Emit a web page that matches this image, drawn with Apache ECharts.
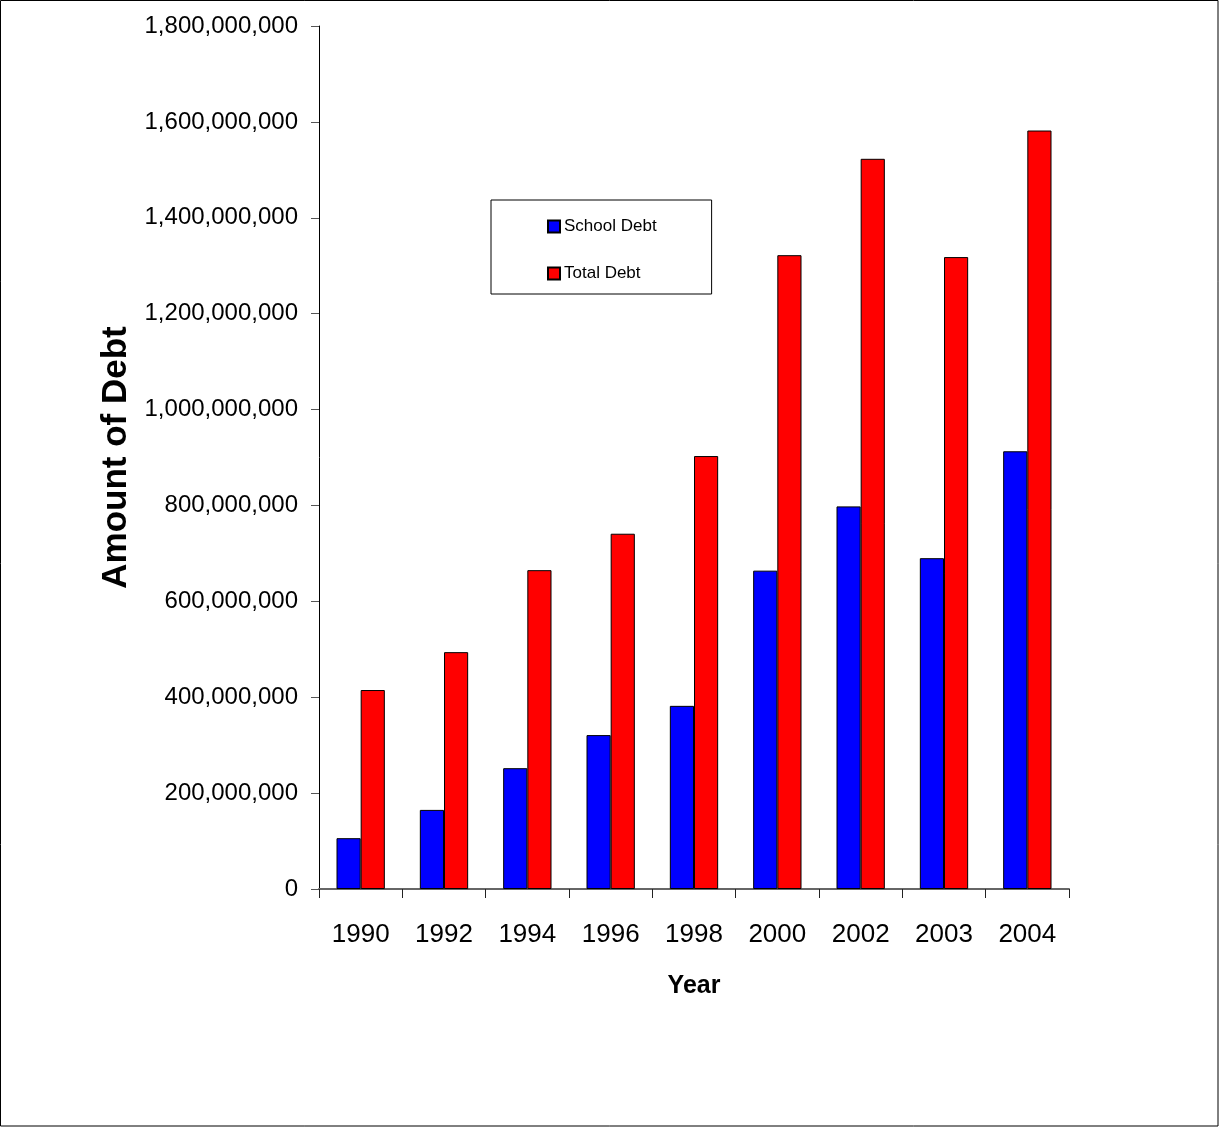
<!DOCTYPE html>
<html>
<head>
<meta charset="utf-8">
<title>School Debt and Total Debt</title>
<script src="https://cdn.jsdelivr.net/npm/echarts@6/dist/echarts.min.js"></script>
<style>
  html, body { margin: 0; padding: 0; background: #fff; }
  #chart { width: 1219px; height: 1127px; }
</style>
</head>
<body>
<div id="chart"></div>
<script>
// Years on the category axis
const years = ['1990', '1992', '1994', '1996', '1998', '2000', '2002', '2003', '2004'];

// Debt amounts in dollars
const schoolDebt = [106e6, 165e6, 252e6, 321e6, 382e6, 664e6, 798e6, 690e6, 913e6];
const totalDebt  = [415e6, 494e6, 665e6, 741e6, 903e6, 1322e6, 1523e6, 1318e6, 1582e6];

// Value axis range
const yMin = 0;
const yMax = 1800000000;
const yStep = 200000000;

const font = 'Liberation Sans, Arial, sans-serif';

const chart = echarts.init(document.getElementById('chart'), null, { renderer: 'canvas' });

chart.setOption({
  backgroundColor: '#ffffff',
  animation: false,
  textStyle: { fontFamily: font, color: '#000' },
  graphic: [{
    type: 'rect',
    shape: { x: 0.5, y: 0.5, width: 1217.5, height: 1125.5 },
    style: { fill: 'none', stroke: '#000', lineWidth: 1 },
    silent: true
  }],
  grid: { left: 319, right: 150, top: 26, bottom: 238, containLabel: false },
  legend: {
    orient: 'vertical',
    left: 491,
    top: 200,
    padding: [18, 55, 12, 56],
    itemGap: 30,
    itemWidth: 12,
    itemHeight: 12,
    icon: 'rect',
    backgroundColor: '#fff',
    borderColor: '#000',
    borderWidth: 1,
    textStyle: { fontFamily: font, fontSize: 17, color: '#000', padding: [0, 0, 0, -1] },
    data: ['School Debt', 'Total Debt']
  },
  xAxis: {
    type: 'category',
    data: years,
    name: 'Year',
    nameLocation: 'middle',
    nameGap: 85,
    nameTextStyle: { fontFamily: font, fontSize: 25, fontWeight: 'bold', color: '#000' },
    axisLine: { show: true, lineStyle: { color: '#666', width: 2 } },
    axisTick: { show: true, inside: false, length: 9, lineStyle: { color: '#222', width: 1 } },
    axisLabel: { fontFamily: font, fontSize: 26, color: '#000', margin: 33 },
    splitLine: { show: false }
  },
  yAxis: {
    type: 'value',
    min: yMin,
    max: yMax,
    interval: yStep,
    name: 'Amount of Debt',
    nameLocation: 'middle',
    nameRotate: 90,
    nameGap: 182,
    nameTextStyle: { fontFamily: font, fontSize: 35, fontWeight: 'bold', color: '#000' },
    axisLine: { show: true, lineStyle: { color: '#000', width: 1 } },
    axisTick: { show: true, inside: false, length: 8, lineStyle: { color: '#555', width: 1 } },
    axisLabel: {
      fontFamily: font, fontSize: 24, color: '#000', margin: 21,
      padding: [4, 0, 0, 0],
      formatter: v => Number(v).toLocaleString('en-US')
    },
    splitLine: { show: false }
  },
  series: [
    {
      name: 'School Debt',
      type: 'bar',
      data: schoolDebt,
      barGap: '0%',
      barCategoryGap: '42%',
      itemStyle: { color: '#0000ff', borderColor: '#000', borderWidth: 1 }
    },
    {
      name: 'Total Debt',
      type: 'bar',
      data: totalDebt,
      barGap: '0%',
      barCategoryGap: '42%',
      itemStyle: { color: '#ff0000', borderColor: '#000', borderWidth: 1 }
    }
  ]
});
</script>
</body>
</html>
